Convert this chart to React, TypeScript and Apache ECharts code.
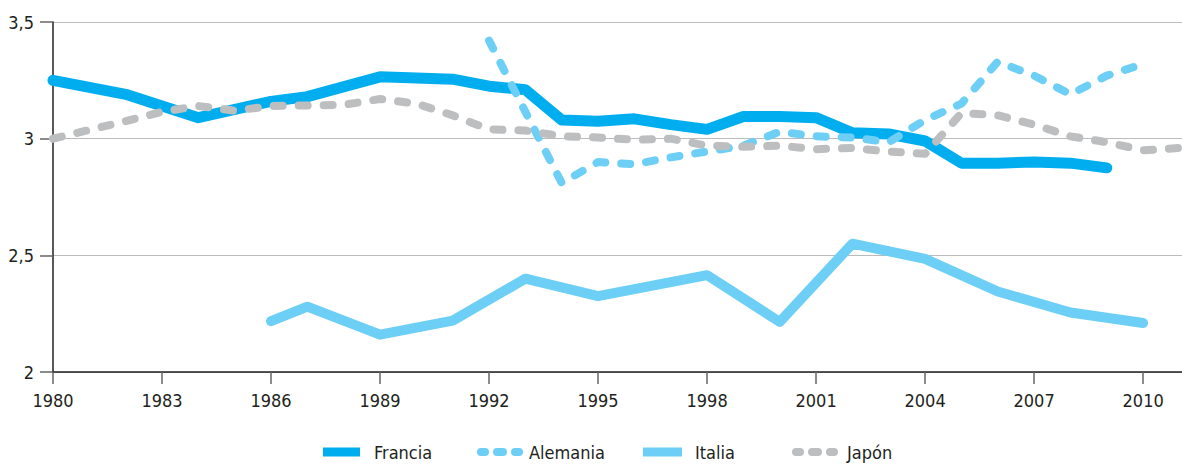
import React, { useEffect, useRef } from "react";
import * as echarts from "echarts";

const seriesNames = ["Francia", "Alemania", "Italia", "Japón"];

const franciaYears = [1980, 1982, 1984, 1986, 1987, 1989, 1991, 1992, 1993, 1994, 1995, 1996, 1997, 1998, 1999, 2000, 2001, 2002, 2003, 2004, 2005, 2006, 2007, 2008, 2009];
const franciaValues = [3.25, 3.19, 3.09, 3.16, 3.18, 3.265, 3.255, 3.225, 3.21, 3.08, 3.075, 3.085, 3.06, 3.04, 3.095, 3.095, 3.09, 3.025, 3.02, 2.99, 2.895, 2.895, 2.9, 2.895, 2.875];

const alemaniaYears = [1992, 1994, 1995, 1996, 1997, 1998, 1999, 2000, 2001, 2002, 2003, 2004, 2005, 2006, 2007, 2008, 2009, 2010];
const alemaniaValues = [3.42, 2.81, 2.9, 2.89, 2.92, 2.945, 2.97, 3.03, 3.01, 3.005, 2.985, 3.08, 3.15, 3.33, 3.27, 3.19, 3.27, 3.32];

const italiaYears = [1986, 1987, 1989, 1991, 1993, 1995, 1998, 2000, 2002, 2004, 2006, 2008, 2010];
const italiaValues = [2.218, 2.28, 2.16, 2.22, 2.4, 2.325, 2.415, 2.215, 2.55, 2.485, 2.345, 2.255, 2.21];

const japonYears = [1980, 1982, 1983, 1984, 1985, 1986, 1988, 1989, 1990, 1991, 1992, 1993, 1994, 1995, 1996, 1997, 1998, 1999, 2000, 2001, 2002, 2003, 2004, 2005, 2006, 2007, 2008, 2009, 2010, 2011];
const japonValues = [3.0, 3.075, 3.115, 3.14, 3.12, 3.14, 3.145, 3.17, 3.15, 3.1, 3.04, 3.035, 3.01, 3.005, 2.995, 3.0, 2.97, 2.965, 2.97, 2.955, 2.96, 2.945, 2.935, 3.11, 3.1, 3.06, 3.01, 2.985, 2.95, 2.96];

const xTickLabels = [1980, 1983, 1986, 1989, 1992, 1995, 1998, 2001, 2004, 2007, 2010];

const pair = (xs: number[], ys: number[]) => xs.map((x, i) => [x, ys[i]]);

const FONT = "'Liberation Sans Narrow', 'DejaVu Sans Condensed', 'Roboto', sans-serif";
const TEXT_COLOR = "#231F20";

const pill = (x0: number, x1: number) =>
  `M${x0 + 4},0 L${x1 - 4},0 A4,4 0 0,1 ${x1 - 4},8 L${x0 + 4},8 A4,4 0 0,1 ${x0 + 4},0 Z`;
const dotsIcon = "path://" + pill(0, 12) + " " + pill(16, 30) + " " + pill(34, 46);

export default function App() {
  const ref = useRef<HTMLDivElement>(null);

  useEffect(() => {
    document.body.style.margin = "0";
    if (!ref.current) return;
    const chart = echarts.init(ref.current, null, { renderer: "svg" });
    const colors = ["#00AEEF", "#6DCFF6", "#6DCFF6", "#BDBEC0"];

    const legendItem = (name: string, icon: string, left: number, w: number, h: number, textPad: number) => ({
      left,
      top: 443,
      padding: 0,
      itemWidth: w,
      itemHeight: h,
      itemStyle: { borderWidth: 0 },
      lineStyle: { width: 0, type: "solid" },
      textStyle: { fontFamily: FONT, fontSize: 18, color: TEXT_COLOR, padding: [0, 0, 0, textPad] },
      data: [{ name, icon }],
    });

    chart.setOption({
      animation: false,
      textStyle: { fontFamily: FONT },
      grid: { left: 53, right: 0, top: 22, bottom: 92, containLabel: false },
      legend: [
        legendItem("Francia", "rect", 323, 37, 9, 9),
        legendItem("Alemania", dotsIcon, 477, 46, 8, 1),
        legendItem("Italia", "rect", 643, 39, 9, 8),
        legendItem("Japón", dotsIcon, 792, 46, 8, 4),
      ],
      xAxis: {
        type: "value",
        min: 1980,
        max: 2011.07,
        interval: 3,
        axisLine: { show: true, lineStyle: { color: TEXT_COLOR, width: 1.5 } },
        axisTick: { show: true, length: 12, customValues: xTickLabels, lineStyle: { color: "#666", width: 1.5 } },
        axisLabel: {
          customValues: xTickLabels,
          margin: 19,
          fontFamily: FONT,
          fontSize: 18,
          color: TEXT_COLOR,
          formatter: (v: number) => String(v),
        },
        splitLine: { show: false },
      },
      yAxis: {
        type: "value",
        min: 2,
        max: 3.5,
        interval: 0.5,
        axisLine: { show: true, lineStyle: { color: TEXT_COLOR, width: 1.5 } },
        axisTick: { show: true, length: 13, lineStyle: { color: "#666", width: 1.5 } },
        axisLabel: {
          margin: 19,
          fontFamily: FONT,
          fontSize: 18,
          color: TEXT_COLOR,
          formatter: (v: number) => String(v).replace(".", ","),
        },
        splitLine: { show: true, lineStyle: { color: "#BBBBBB", width: 1 } },
      },
      series: [
        {
          name: seriesNames[0],
          type: "line",
          data: pair(franciaYears, franciaValues),
          symbol: "none",
          color: colors[0],
          lineStyle: { width: 11, color: colors[0], join: "round", cap: "round" },
          z: 2,
        },
        {
          name: seriesNames[2],
          type: "line",
          data: pair(italiaYears, italiaValues),
          symbol: "none",
          color: colors[2],
          lineStyle: { width: 10, color: colors[2], join: "round", cap: "round" },
          z: 2,
        },
        {
          name: seriesNames[1],
          type: "line",
          data: pair(alemaniaYears, alemaniaValues),
          symbol: "none",
          color: colors[1],
          lineStyle: { width: 8, color: colors[1], type: [9, 16], cap: "round", join: "round" },
          z: 3,
        },
        {
          name: seriesNames[3],
          type: "line",
          data: pair(japonYears, japonValues),
          symbol: "none",
          color: colors[3],
          lineStyle: { width: 8, color: colors[3], type: [9, 16], cap: "round", join: "round" },
          z: 3,
        },
      ],
    });
    return () => chart.dispose();
  }, []);

  return <div ref={ref} style={{ width: 1182, height: 464 }} />;
}
